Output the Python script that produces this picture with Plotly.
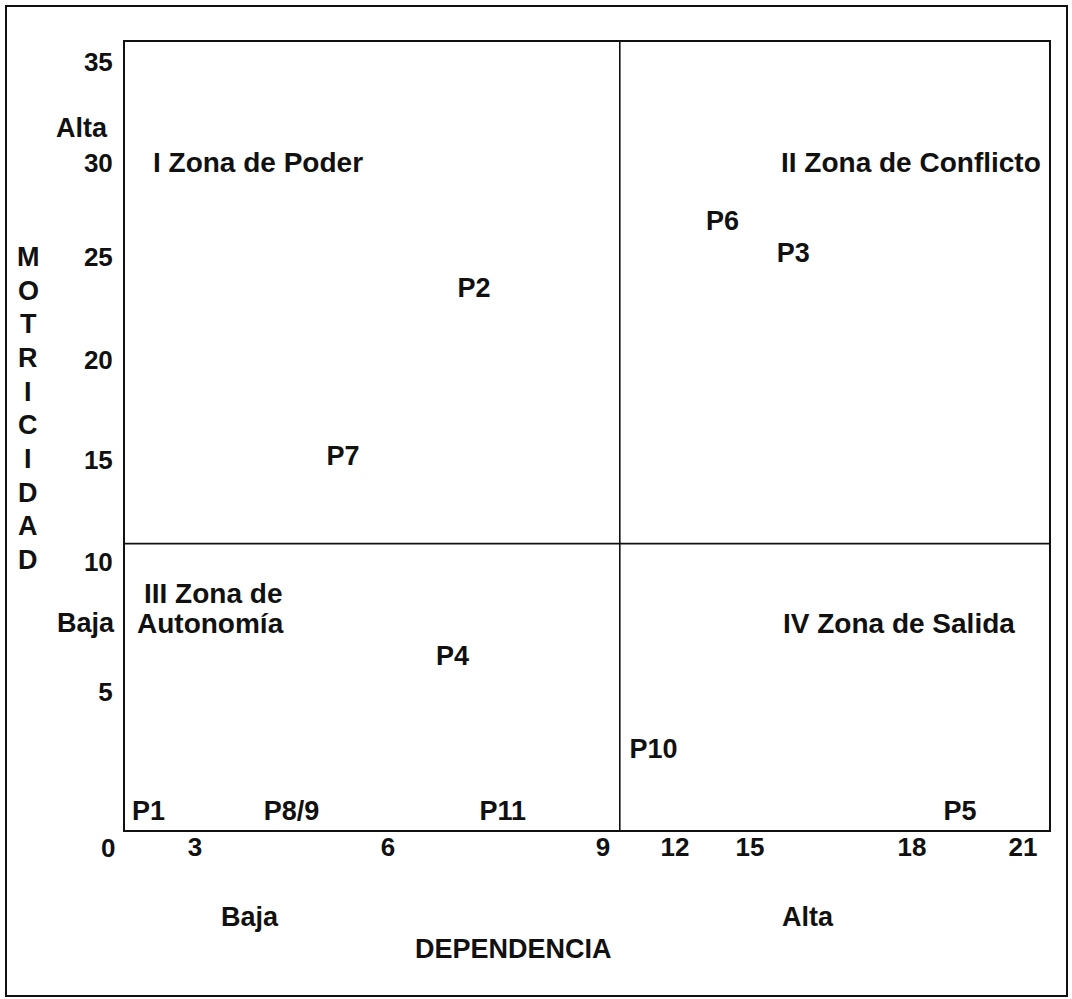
import numpy as np
import plotly.graph_objects as go

# ---------------- data ----------------
X_TICK_VALUES = [0, 3, 6, 9, 12, 15, 18, 21]
Y_TICK_VALUES = [0, 5, 10, 15, 20, 25, 30, 35]

labels = ["P1", "P2", "P3", "P4", "P5", "P6", "P7", "P8/9", "P10", "P11"]
dependencia = [1.4, 7.2, 15.8, 6.9, 19.3, 13.9, 5.3, 4.5, 11.1, 7.6]
motricidad = [1.1, 23.4, 25.1, 6.3, 1.1, 26.8, 15.1, 1.1, 3.1, 1.1]

DIV_DEPENDENCIA = 9.7
DIV_MOTRICIDAD = 10.9

# ---------------- layout / scale (the original axes are non-uniform) ----------------
W, H = 1072, 999
L, R, T, B = 125, 1049, 42, 830          # plot area in page pixels
X_TICK_POS = [108, 195, 388, 603, 675, 750, 912, 1023]
Y_TICK_POS = [848, 692, 562, 460, 360, 257, 163, 62]


def sx(v):
    return np.interp(v, X_TICK_VALUES, X_TICK_POS)


def sy(v):
    return np.interp(v, Y_TICK_VALUES, Y_TICK_POS)


def px(x):
    return (x - L) / (R - L)


def py(y):
    return (B - y) / (B - T)


FONT = "Arial, Liberation Sans, sans-serif"
INK = "#111111"

fig = go.Figure()
fig.add_trace(go.Scatter(
    x=sx(dependencia), y=sy(motricidad), text=labels, mode="text",
    textposition="middle center", cliponaxis=False,
    textfont=dict(family=FONT, size=27, color=INK, weight="bold"),
    hoverinfo="text", showlegend=False,
))

ann = []


def add(text, x, y, size=27, xanchor="center"):
    ann.append(dict(text=text, x=px(x), y=py(y), xref="paper", yref="paper",
                    xanchor=xanchor, yanchor="middle", showarrow=False,
                    font=dict(family=FONT, size=size, color=INK, weight="bold")))


# zone titles
add("I Zona de Poder", 151, 162, size=28, xanchor="left")
add("II Zona de Conflicto", 779, 162, size=28, xanchor="left")
add("III Zona de", 142, 593, size=28, xanchor="left")
add("Autonomía", 135, 623, size=28, xanchor="left")
add("IV Zona de Salida", 781, 623, size=28, xanchor="left")

# axis side labels
add("Alta", 82, 128)
add("Baja", 86, 623)
add("Baja", 250, 917)
add("Alta", 808, 917)
add("DEPENDENCIA", 513, 949)
add("0", 108, 848, size=26)

letters = "MOTRICIDAD"
for i, ch in enumerate(letters):
    add(ch, 28, 257 + i * (560 - 257) / (len(letters) - 1))

fig.update_layout(annotations=ann)

# divider lines
fig.add_shape(type="line", xref="x", yref="paper", x0=sx(DIV_DEPENDENCIA), x1=sx(DIV_DEPENDENCIA),
              y0=0, y1=1, line=dict(color=INK, width=1.6))
fig.add_shape(type="line", xref="paper", yref="y", x0=0, x1=1, y0=sy(DIV_MOTRICIDAD),
              y1=sy(DIV_MOTRICIDAD), line=dict(color=INK, width=1.6))
# outer frame
fig.add_shape(type="rect", xref="paper", yref="paper", x0=px(6), x1=px(1067), y0=py(6), y1=py(996),
              line=dict(color=INK, width=2), layer="below")

fig.update_xaxes(
    range=[L, R], tickmode="array",
    tickvals=list(sx(X_TICK_VALUES[1:])), ticktext=[str(v) for v in X_TICK_VALUES[1:]],
    showgrid=False, zeroline=False, showline=True, mirror=True, linecolor=INK, linewidth=2,
    ticks="", ticklabelstandoff=-7,
    tickfont=dict(family=FONT, size=26, color=INK, weight="bold"),
)
fig.update_yaxes(
    range=[B, T], tickmode="array",
    tickvals=list(sy(Y_TICK_VALUES[1:])), ticktext=[str(v) for v in Y_TICK_VALUES[1:]],
    showgrid=False, zeroline=False, showline=True, mirror=True, linecolor=INK, linewidth=2,
    ticks="", ticklabelstandoff=5,
    tickfont=dict(family=FONT, size=26, color=INK, weight="bold"),
)

fig.update_layout(
    width=W, height=H, autosize=False,
    margin=dict(l=L, r=W - R, t=T, b=H - B, pad=0),
    paper_bgcolor="white", plot_bgcolor="white",
    showlegend=False,
)

fig.write_html("out.html", config={"displayModeBar": False},
               post_script="document.body.style.margin='0';")
